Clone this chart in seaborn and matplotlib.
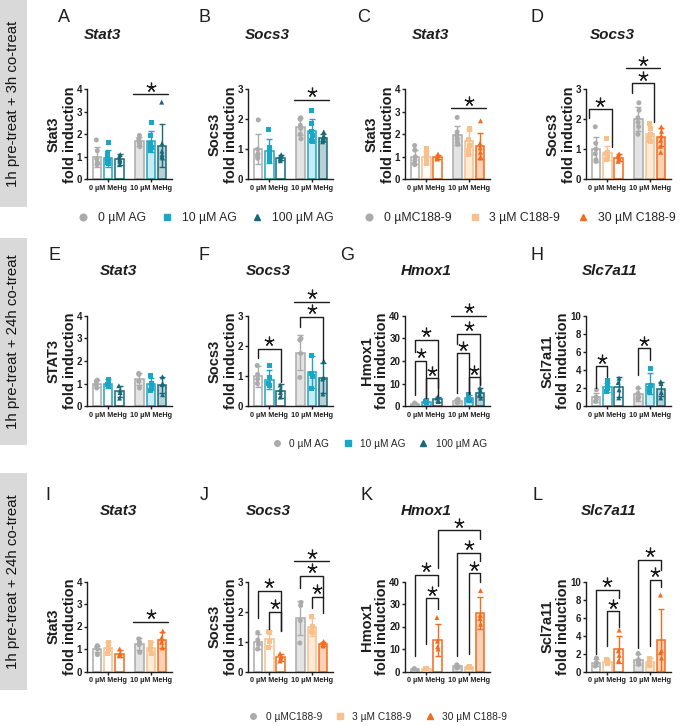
import numpy as np
import pandas as pd
import matplotlib
matplotlib.use("Agg")
import matplotlib.pyplot as plt
import seaborn as sns
from matplotlib.lines import Line2D
from matplotlib.patches import Rectangle

sns.set_theme(style="ticks")
plt.rcParams["font.family"] = ["Liberation Sans", "DejaVu Sans"]
np.random.seed(7)

W, H = 685, 726
fig = plt.figure(figsize=(W / 100, H / 100), dpi=100)

# ---------------- categories ----------------
mehg_levels = ["0 µM MeHg", "10 µM MeHg"]
ag_levels = ["0 µM AG", "10 µM AG", "100 µM AG"]
c188_levels = ["0 µMC188-9", "3 µM C188-9", "30 µM C188-9"]
row_labels = ["1h pre-treat + 3h co-treat", "1h pre-treat + 24h co-treat", "1h pre-treat + 24h co-treat"]

# ---------------- data (order: 0 MeHg x 3 treatments, 10 MeHg x 3 treatments) ----------------
A_mean = [1.00, 0.93, 0.88, 1.68, 1.68, 1.50]
A_sd = [0.45, 0.37, 0.25, 0.22, 0.48, 0.95]
A_pts = [[1.75, 1.27, 0.90, 0.75, 0.70, 0.65], [1.63, 1.15, 0.95, 0.85, 0.75, 0.70],
         [1.10, 1.00, 0.90, 0.85, 0.80, 0.65], [1.95, 1.80, 1.70, 1.60, 1.55, 1.45],
         [2.53, 1.95, 1.60, 1.40, 1.35, 1.30], [3.43, 1.60, 1.25, 1.10, 1.00, 0.95]]

B_mean = [1.00, 0.93, 0.72, 1.75, 1.62, 1.38]
B_sd = [0.50, 0.40, 0.08, 0.28, 0.38, 0.12]
B_pts = [[1.98, 1.00, 0.85, 0.80, 0.75, 0.70], [1.65, 1.05, 0.90, 0.80, 0.70, 0.62],
         [0.82, 0.78, 0.75, 0.70, 0.68, 0.62], [2.05, 2.00, 1.80, 1.70, 1.50, 1.35],
         [2.30, 1.85, 1.60, 1.45, 1.30, 1.25], [1.58, 1.45, 1.40, 1.35, 1.30, 1.25]]

C_mean = [1.00, 0.97, 1.00, 1.95, 1.68, 1.48]
C_sd = [0.30, 0.28, 0.10, 0.42, 0.55, 0.58]
C_pts = [[1.50, 1.30, 1.00, 0.85, 0.70, 0.65], [1.35, 1.20, 1.00, 0.85, 0.75, 0.70],
         [1.12, 1.05, 1.00, 0.95, 0.92, 0.90], [2.75, 2.10, 1.95, 1.80, 1.65, 1.55],
         [2.25, 2.20, 1.75, 1.50, 1.30, 1.10], [2.60, 1.60, 1.40, 1.20, 1.00, 0.95]]

D_mean = [1.00, 0.87, 0.72, 2.00, 1.50, 1.40]
D_sd = [0.42, 0.23, 0.12, 0.40, 0.25, 0.30]
D_pts = [[1.75, 1.20, 1.00, 0.85, 0.65, 0.60], [1.35, 0.90, 0.85, 0.80, 0.70, 0.65],
         [0.85, 0.80, 0.75, 0.70, 0.65, 0.60], [2.55, 2.30, 2.05, 1.90, 1.75, 1.50],
         [1.85, 1.70, 1.50, 1.40, 1.30, 1.25], [1.75, 1.60, 1.45, 1.30, 1.10, 0.90]]

E_mean = [1.00, 1.00, 0.65, 1.20, 0.98, 0.95]
E_sd = [0.15, 0.20, 0.25, 0.25, 0.28, 0.35]
E_pts = [[1.15, 1.10, 0.95, 0.80], [1.20, 1.10, 0.95, 0.85], [0.90, 0.70, 0.60, 0.35],
         [1.45, 1.40, 1.10, 0.80], [1.35, 1.00, 0.80, 0.70], [1.30, 1.00, 0.95, 0.50]]

F_mean = [1.00, 0.88, 0.50, 1.78, 1.12, 0.95]
F_sd = [0.35, 0.32, 0.22, 0.57, 0.53, 0.50]
F_pts = [[1.35, 1.05, 0.90, 0.75], [1.35, 0.95, 0.75, 0.70], [0.70, 0.55, 0.45, 0.30],
         [2.25, 2.20, 1.75, 0.95], [1.70, 1.10, 1.00, 0.60], [1.50, 0.95, 0.90, 0.40]]

G_mean = [1.0, 1.9, 3.0, 2.2, 3.5, 6.0]
G_sd = [0.3, 0.4, 1.0, 0.8, 1.5, 2.0]
G_pts = [[1.3, 1.1, 0.9, 0.7], [2.4, 2.0, 1.8, 1.6], [4.0, 3.5, 2.5, 2.0],
         [3.0, 2.5, 2.0, 1.5], [5.0, 4.0, 3.0, 2.5], [8.0, 7.0, 5.0, 3.5]]

H_mean = [1.0, 2.1, 2.1, 1.3, 2.5, 1.9]
H_sd = [0.5, 0.5, 1.1, 0.7, 1.2, 0.8]
H_pts = [[1.8, 1.0, 0.7, 0.5], [2.8, 2.2, 2.0, 1.6], [3.1, 2.6, 1.8, 0.9],
         [2.0, 1.4, 1.0, 0.8], [4.2, 2.3, 2.0, 1.6], [2.7, 2.5, 1.5, 0.9]]

I_mean = [1.00, 1.05, 0.80, 1.22, 1.05, 1.40]
I_sd = [0.15, 0.25, 0.15, 0.25, 0.25, 0.35]
I_pts = [[1.15, 1.10, 1.00, 0.75], [1.30, 1.10, 1.00, 0.80], [1.00, 0.80, 0.75, 0.70],
         [1.45, 1.30, 1.20, 0.85], [1.30, 1.10, 1.00, 0.80], [1.80, 1.50, 1.30, 1.05]]

J_mean = [1.00, 1.10, 0.48, 1.78, 1.50, 0.92]
J_sd = [0.25, 0.25, 0.12, 0.57, 0.30, 0.08]
J_pts = [[1.30, 1.05, 0.90, 0.75], [1.35, 1.30, 1.00, 0.80], [0.60, 0.50, 0.45, 0.35],
         [2.30, 2.20, 1.70, 0.95], [1.85, 1.50, 1.35, 1.30], [1.00, 0.95, 0.90, 0.85]]

K_mean = [1.0, 1.2, 14.0, 2.3, 1.9, 26.0]
K_sd = [0.3, 0.2, 7.0, 0.7, 0.3, 7.0]
K_pts = [[1.3, 1.1, 0.9, 0.7], [1.4, 1.3, 1.1, 1.0], [24.0, 13.5, 11.0, 10.0],
         [3.0, 2.6, 2.0, 1.6], [2.3, 2.0, 1.8, 1.6], [36.0, 25.0, 23.5, 21.0]]

L_mean = [1.0, 1.1, 2.45, 1.3, 1.1, 3.5]
L_sd = [0.4, 0.2, 1.55, 0.6, 0.4, 3.4]
L_pts = [[1.5, 1.0, 0.8, 0.6], [1.3, 1.2, 1.0, 0.9], [4.6, 2.3, 1.8, 1.2],
         [2.0, 1.3, 1.0, 0.8], [1.5, 1.2, 1.0, 0.7], [8.5, 2.3, 2.1, 1.5]]

# significance annotations: (bar i, bar j, top, end at i, end at j) and group lines (group, y)
D_brackets = [(0, 2, 2.33, 2.03, 1.07), (3, 5, 3.2, 2.87, 1.9)]
F_brackets = [(0, 2, 1.9, 1.6, 0.8), (3, 5, 2.98, 2.64, 1.53)]
G_brackets = [(0, 1, 20, 4.8, 3.5), (1, 2, 12.3, 3.5, 4.4), (0, 2, 29.5, 23.9, 7.8),
              (3, 4, 23.4, 5.7, 5.3), (4, 5, 12.8, 5.3, 9.2), (3, 5, 32, 27.7, 9.2)]
H_brackets = [(0, 1, 4.4, 2.0, 3.25), (3, 4, 6.4, 3.4, 5.1)]
J_brackets = [(0, 2, 2.7, 1.8, 1.35), (1, 2, 2.0, 1.42, 1.35), (3, 5, 3.2, 2.8, 2.46), (4, 5, 2.5, 2.12, 1.95)]
K_brackets = [(1, 2, 32.5, 12.3, 28.0), (0, 2, 43.0, 7.0, 37.8), (4, 5, 43.7, 7.8, 40.0),
              (3, 5, 52.7, 7.0, 49.0), (2, 5, 62.7, 46.0, 58.7)]
L_brackets = [(1, 2, 6.7, 2.8, 5.0), (0, 2, 9.1, 1.9, 8.2), (4, 5, 10.2, 2.8, 9.4), (3, 5, 12.4, 2.6, 11.3)]

# ---------------- styles ----------------
DARK = "#1e1e1e"
ag_edge = ["#ababab", "#1aa7c6", "#17697a"]
ag_fill = ["#e4e4e4", "#c9ebf2", "#b9d0d5"]
c_edge = ["#ababab", "#f8c08b", "#f26b1f"]
c_fill = ["#e4e4e4", "#fdebd8", "#fbd2b5"]
markers = ["o", "s", "^"]

col_x = [87, 248, 405, 586]
row_y = [(89.3, 179.3), (316, 406), (581.5, 671.5)]
AX_W = 85


def star(ax, x, y):
    ax.plot([x], [y], ls="none", marker=(5, 2, 0), ms=7, mew=0.9, color=DARK, clip_on=False, zorder=6)


def draw_panel(ax, means, sds, pts, levels, edge, fill, ymax, ystep, ylabel,
               brackets=(), lines=(), shift=0.0):
    pal = dict(zip(levels, edge))
    df = pd.DataFrame({"MeHg": [mehg_levels[g] for g in range(2) for t in range(3)],
                       "Treatment": [levels[t] for g in range(2) for t in range(3)],
                       "value": means})
    sns.barplot(data=df, x="MeHg", y="value", hue="Treatment", order=mehg_levels, hue_order=levels,
                palette=pal, width=0.8, gap=0.25, errorbar=None, legend=False, ax=ax, zorder=1)
    bar_conts = list(ax.containers)
    centers = {}
    for t, cont in enumerate(bar_conts):
        for g, bar in enumerate(cont):
            bar.set_facecolor("white" if g == 0 else fill[t])
            bar.set_edgecolor(edge[t])
            bar.set_linewidth(1.1)
            cx = bar.get_x() + bar.get_width() / 2
            centers[g * 3 + t] = cx
            ax.errorbar(cx, means[g * 3 + t], yerr=sds[g * 3 + t], fmt="none", ecolor=edge[t],
                        elinewidth=1.0, capsize=2.2, capthick=1.0, zorder=3)
    prow = []
    for g in range(2):
        for t in range(3):
            for v in pts[g * 3 + t]:
                prow.append((mehg_levels[g], levels[t], v))
    pdf = pd.DataFrame(prow, columns=["MeHg", "Treatment", "value"])
    for t, mk in enumerate(markers):
        sub = pdf[pdf["Treatment"] == levels[t]]
        sns.stripplot(data=sub, x="MeHg", y="value", hue="Treatment", order=mehg_levels, hue_order=levels,
                      palette=pal, dodge=True, jitter=0.05, marker=mk, size=3.6, linewidth=0,
                      legend=False, ax=ax, zorder=4)
    ax.set_xlim(-0.5, 1.5)
    ax.set_ylim(0, ymax)
    ticks = np.arange(0, ymax + ystep / 2, ystep)
    ax.set_yticks(ticks)
    ax.set_yticklabels([str(int(v)) for v in ticks], fontweight="bold")
    ax.set_xticks([0, 1])
    ax.set_xticklabels(mehg_levels, fontweight="bold")
    for s in ["top", "right"]:
        ax.spines[s].set_visible(False)
    for s in ["left", "bottom"]:
        ax.spines[s].set_linewidth(1.0)
        ax.spines[s].set_color(DARK)
    ax.tick_params(axis="y", length=2.5, width=1, labelsize=7, pad=1.0, colors=DARK)
    ax.tick_params(axis="x", length=2.5, width=1, labelsize=5.2, pad=1.5, colors=DARK)
    ax.set_xlabel("")
    ax.set_ylabel(ylabel, fontsize=10.5, fontweight="bold", labelpad=0.0, color=DARK, linespacing=1.15)
    ax.set_facecolor("none")
    # significance
    for (i, j, yt, yi, yj) in brackets:
        xi, xj = centers[i] + shift, centers[j] + shift
        ax.plot([xi, xi, xj, xj], [yi, yt, yt, yj], color=DARK, lw=1.0, clip_on=False, zorder=5)
        star(ax, (xi + xj) / 2, yt + 0.085 * ymax)
    for (g, y) in lines:
        ax.plot([g - 0.41 + shift, g + 0.41 + shift], [y, y], color=DARK, lw=1.0, clip_on=False, zorder=5)
        star(ax, g + shift, y + 0.085 * ymax)


def new_ax(col, row):
    top, bot = row_y[row]
    return fig.add_axes([col_x[col] / W, 1 - bot / H, AX_W / W, (bot - top) / H])


panels = [
    # row, col, letter, title, means, sds, pts, levels, edge, fill, ymax, ystep, ylabel, brackets, lines, shift
    (0, 0, "A", "Stat3", A_mean, A_sd, A_pts, ag_levels, ag_edge, ag_fill, 4, 1, "Stat3\nfold induction", [], [(1, 3.78)], 0.0),
    (0, 1, "B", "Socs3", B_mean, B_sd, B_pts, ag_levels, ag_edge, ag_fill, 3, 1, "Socs3\nfold induction", [], [(1, 2.64)], 0.0),
    (0, 2, "C", "Stat3", C_mean, C_sd, C_pts, c188_levels, c_edge, c_fill, 4, 1, "Stat3\nfold induction", [], [(1, 3.16)], 0.0),
    (0, 3, "D", "Socs3", D_mean, D_sd, D_pts, c188_levels, c_edge, c_fill, 3, 1, "Socs3\nfold induction", D_brackets, [(1, 3.7)], -0.16),
    (1, 0, "E", "Stat3", E_mean, E_sd, E_pts, ag_levels, ag_edge, ag_fill, 4, 1, "STAT3\nfold induction", [], [], 0.0),
    (1, 1, "F", "Socs3", F_mean, F_sd, F_pts, ag_levels, ag_edge, ag_fill, 3, 1, "Socs3\nfold induction", F_brackets, [(1, 3.48)], 0.0),
    (1, 2, "G", "Hmox1", G_mean, G_sd, G_pts, ag_levels, ag_edge, ag_fill, 40, 10, "Hmox1\nfold induction", G_brackets, [(1, 40)], 0.0),
    (1, 3, "H", "Slc7a11", H_mean, H_sd, H_pts, ag_levels, ag_edge, ag_fill, 10, 2, "Scl7a11\nfold induction", H_brackets, [], 0.0),
    (2, 0, "I", "Stat3", I_mean, I_sd, I_pts, c188_levels, c_edge, c_fill, 4, 1, "Stat3\nfold induction", [], [(1, 2.21)], 0.0),
    (2, 1, "J", "Socs3", J_mean, J_sd, J_pts, c188_levels, c_edge, c_fill, 3, 1, "Socs3\nfold induction", J_brackets, [(1, 3.67)], 0.0),
    (2, 2, "K", "Hmox1", K_mean, K_sd, K_pts, c188_levels, c_edge, c_fill, 40, 10, "Hmox1\nfold induction", K_brackets, [], 0.0),
    (2, 3, "L", "Slc7a11", L_mean, L_sd, L_pts, c188_levels, c_edge, c_fill, 10, 2, "Scl7a11\nfold induction", L_brackets, [], 0.0),
]

letter_pos = {"A": (58, 18), "B": (198, 18), "C": (357, 18), "D": (530, 18),
              "E": (48, 255), "F": (199, 255), "G": (340, 255), "H": (530, 255),
              "I": (45, 495), "J": (200, 495), "K": (360, 495), "L": (533, 495)}
title_pos = {"A": (102, 35), "B": (267, 35), "C": (430, 35), "D": (612, 35),
             "E": (118, 271), "F": (268, 271), "G": (426, 271), "H": (610, 271),
             "I": (118, 511), "J": (268, 511), "K": (426, 511), "L": (609, 511)}

for (r, c, letter, title, m, s, p, lev, ed, fl, ymax, ystep, ylab, br, ln, sh) in panels:
    ax = new_ax(c, r)
    draw_panel(ax, m, s, p, lev, ed, fl, ymax, ystep, ylab, br, ln, sh)
    lx, ly = letter_pos[letter]
    fig.text(lx / W, 1 - ly / H, letter, fontsize=13, ha="left", va="center", color=DARK)
    tx, ty = title_pos[letter]
    fig.text(tx / W, 1 - ty / H, title, fontsize=11, fontweight="bold", fontstyle="italic",
             ha="center", va="center", color=DARK)

# row label boxes
boxes = [(0, 207), (238, 445), (473, 690)]
for (y0, y1), lab in zip(boxes, row_labels):
    fig.patches.append(Rectangle((0, 1 - y1 / H), 27 / W, (y1 - y0) / H, transform=fig.transFigure,
                                 facecolor="#d9d9d9", edgecolor="none", zorder=0))
    fig.text(13.5 / W, 1 - (y0 + y1) / 2 / H, lab, rotation=90, fontsize=10.8, ha="center", va="center",
             color="#151515")


def add_legend(levels, colors, cx, cy, fs, ms, colsp):
    handles = [Line2D([], [], ls="none", marker=mk, color=col, markersize=ms)
               for mk, col in zip(markers, colors)]
    fig.legend(handles, levels, loc="center", bbox_to_anchor=(cx / W, 1 - cy / H), ncol=3, frameon=False,
               fontsize=fs, handlelength=0.8, handletextpad=0.8, columnspacing=colsp, borderpad=0,
               borderaxespad=0)


add_legend(ag_levels, ag_edge, 206, 218, 8.8, 4.8, 1.3)
add_legend(c188_levels, c_edge, 520, 218, 8.8, 4.8, 1.5)
add_legend(ag_levels, ag_edge, 380, 444, 7.3, 4.0, 1.4)
add_legend(c188_levels, c_edge, 378, 717, 7.3, 4.0, 1.4)

fig.savefig("out.png", dpi=100)
